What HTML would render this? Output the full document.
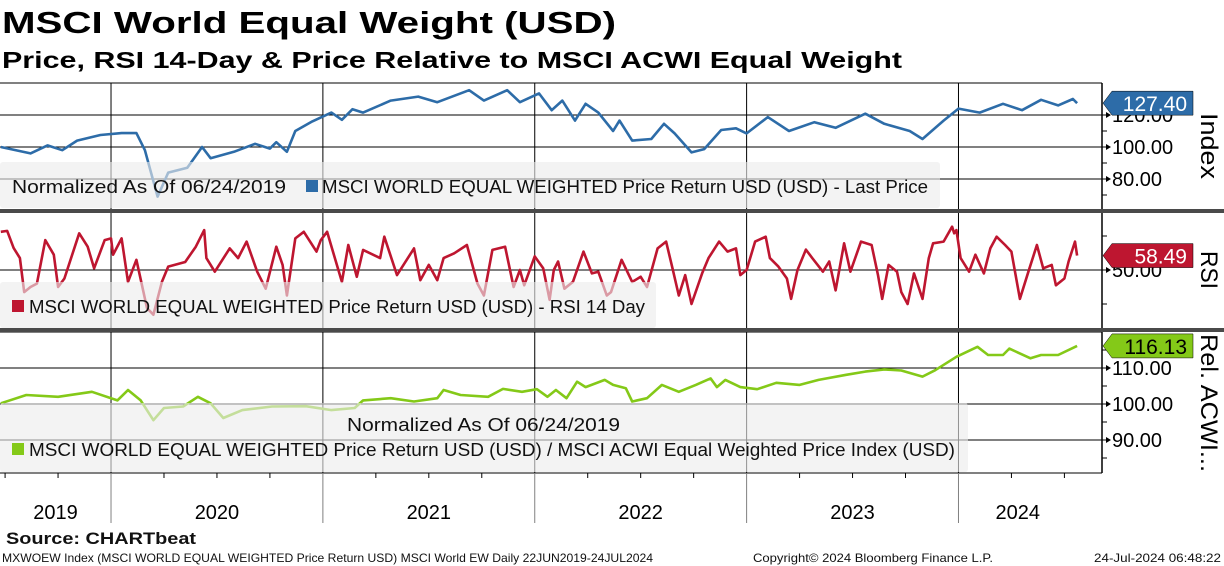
<!DOCTYPE html>
<html><head><meta charset="utf-8"><style>
html,body{margin:0;padding:0;background:#fff;}
svg{display:block;font-family:"Liberation Sans",sans-serif;}
</style></head><body>
<svg id="chart" width="1224" height="566" viewBox="0 0 1224 566" xmlns="http://www.w3.org/2000/svg">
<rect width="1224" height="566" fill="#fff"/>
<text x="2" y="33" font-size="31" font-weight="bold" textLength="614" lengthAdjust="spacingAndGlyphs">MSCI World Equal Weight (USD)</text>
<text x="2" y="68" font-size="23" font-weight="bold" textLength="900" lengthAdjust="spacingAndGlyphs">Price, RSI 14-Day &amp; Price Relative to MSCI ACWI Equal Weight</text>
<g id="grid"></g>
<g id="series"></g>
<g id="overlay"></g>
</svg>
<script>
// ---- data ----
const priceDates=[2019.48,2019.62,2019.70,2019.77,2019.84,2019.95,2020.05,2020.12,2020.16,2020.22,2020.27,2020.36,2020.43,2020.47,2020.58,2020.68,2020.75,2020.78,2020.83,2020.87,2020.95,2021.04,2021.09,2021.14,2021.19,2021.32,2021.45,2021.54,2021.69,2021.76,2021.87,2021.93,2022.02,2022.08,2022.13,2022.19,2022.24,2022.30,2022.37,2022.40,2022.46,2022.55,2022.61,2022.66,2022.74,2022.80,2022.88,2022.95,2023.00,2023.10,2023.20,2023.32,2023.42,2023.56,2023.65,2023.77,2023.83,2023.93,2024.00,2024.10,2024.21,2024.30,2024.39,2024.47,2024.54,2024.56];
const priceValues=[100,96,101,98,104,107.5,108.7,108.7,98,69,84,87,100,93,97,102,99,103,97,110,116,121.5,117,123.6,121.5,129,131.5,128,135.5,129,135.5,128,133.5,123,129,116.5,127,121.5,110,116.5,104,105,114.5,108.5,96.6,98.7,110.6,111.7,108.5,118.7,110,115.5,112,120.8,114.5,110,105,116.5,124,121.5,127,123,129.5,126,130,127.4];
const rsiDates=[2019.48,2019.51,2019.54,2019.57,2019.59,2019.62,2019.65,2019.69,2019.73,2019.75,2019.78,2019.85,2019.89,2019.92,2019.97,2020.00,2020.01,2020.05,2020.08,2020.12,2020.17,2020.20,2020.24,2020.27,2020.35,2020.40,2020.44,2020.45,2020.49,2020.56,2020.60,2020.64,2020.69,2020.73,2020.78,2020.81,2020.83,2020.87,2020.91,2020.97,2020.99,2021.02,2021.09,2021.12,2021.16,2021.19,2021.27,2021.29,2021.35,2021.43,2021.46,2021.50,2021.54,2021.57,2021.62,2021.68,2021.73,2021.76,2021.80,2021.86,2021.90,2021.93,2021.95,2022.00,2022.04,2022.07,2022.09,2022.11,2022.14,2022.18,2022.23,2022.27,2022.30,2022.34,2022.36,2022.41,2022.46,2022.50,2022.53,2022.58,2022.62,2022.65,2022.68,2022.71,2022.74,2022.79,2022.82,2022.87,2022.91,2022.95,2022.97,2023.00,2023.04,2023.09,2023.11,2023.15,2023.19,2023.21,2023.24,2023.28,2023.31,2023.36,2023.39,2023.42,2023.46,2023.49,2023.54,2023.59,2023.62,2023.64,2023.67,2023.71,2023.73,2023.76,2023.79,2023.83,2023.86,2023.88,2023.93,2023.97,2023.98,2023.99,2024.01,2024.05,2024.08,2024.12,2024.15,2024.18,2024.22,2024.25,2024.29,2024.33,2024.37,2024.40,2024.44,2024.46,2024.50,2024.52,2024.55,2024.56];
const rsiValues=[72.5,73,63,57,37,40,42,67.6,59,40,45,71.6,63.7,51,67.6,68.6,59,68.6,43,56,27.6,23.7,43,52,54.7,63.7,73.5,57,49,62.7,57,66.7,49,39,63.7,53,35,68.6,72.5,60.8,67.6,72.5,43,64.7,46,61.8,57,69.6,47,62.7,44,53,44,57,59.8,64.7,42,35,61.8,63.7,40,50,41,58,51,32.5,50,55,39,43,60.8,48,49,35,37,56,43,46,40,62.7,66.7,51,35,47,30,48,57,66.7,60.8,62.7,47,50,66.7,69.6,57,52,45,33,50,62,57,49,55,38,65.7,49,66.7,64.7,47,33,53,49,37,30,48,33,57,65.7,66.7,75.5,71.6,73.5,57,49,59,48,62.7,69.6,64.7,60.8,33,49,64.7,51,53,41,45,55,66.7,58.49];
const relDates=[2019.48,2019.60,2019.75,2019.91,2020.03,2020.08,2020.14,2020.20,2020.25,2020.34,2020.41,2020.47,2020.53,2020.62,2020.76,2020.92,2021.04,2021.15,2021.19,2021.32,2021.43,2021.54,2021.57,2021.65,2021.78,2021.85,2021.94,2022.01,2022.06,2022.10,2022.15,2022.20,2022.24,2022.33,2022.37,2022.43,2022.46,2022.53,2022.60,2022.68,2022.76,2022.83,2022.86,2022.90,2022.97,2023.05,2023.14,2023.25,2023.34,2023.47,2023.56,2023.65,2023.73,2023.83,2023.89,2023.99,2024.09,2024.14,2024.21,2024.24,2024.34,2024.39,2024.47,2024.56];
const relValues=[100.2,102.5,102,103.4,101,103.9,101,95.5,98.9,99.3,102,100.2,96.1,98.3,99.3,99.4,98.3,98.9,101,101.6,100.7,101.6,103.9,102.5,102,104.2,103.4,104.1,102,103.9,101.6,106.2,104.7,106.7,105.3,104.4,100.7,101.6,105.3,103.4,105.3,107.1,104.7,106.7,104.7,104.1,105.9,105.3,106.7,108.1,109,109.6,109.3,107.6,109.4,113.1,115.9,113.6,113.6,115.4,112.7,113.6,113.6,116.13];
const yearLabels=["2019","2020","2021","2022","2023","2024"];
const yearStarts=[2020,2021,2022,2023,2024];
const priceTicks=[120,100,80];
const rsiTicks=[50];
const relTicks=[110,100,90];
const lastPrice="127.40", lastRsi="58.49", lastRel="116.13";

// ---- scales ----
const PL=0, PR=1102;
const xS=t=>PL+(t-2019.476)/0.00472;
const yPrice=v=>147-(v-100)*1.6;
const yRsi=v=>270-(v-50)*1.7;
const yRel=v=>404-(v-100)*3.6;
const NS="http://www.w3.org/2000/svg";
function mk(tag,attrs,parent,txt){const e=document.createElementNS(NS,tag);for(const k in attrs)e.setAttribute(k,attrs[k]);if(txt!=null)e.textContent=txt;parent.appendChild(e);return e;}
const grid=document.getElementById('grid'),ser=document.getElementById('series'),ov=document.getElementById('overlay');

const panels=[{top:83,bot:209,ys:yPrice,ticks:priceTicks,minor:[110,90,70],name:'price'},
{top:212,bot:328,ys:yRsi,ticks:rsiTicks,minor:[70,30],name:'rsi'},
{top:332,bot:473,ys:yRel,ticks:relTicks,minor:[115,105,95,85],name:'rel'}];
panels.forEach(p=>{
  const l=mk('line',{x1:0,x2:PR,y1:p.top,y2:p.top,stroke:'#000','stroke-width':1},grid);
  
  
  p.ticks.forEach(v=>{
    const y=p.ys(v);
    const g=mk('line',{x1:0,x2:PR+6,y1:y,y2:y,stroke:'#000','stroke-width':1},grid);
    
    
    mk('path',{d:`M${PR+4} ${y-3}L${PR+9} ${y}L${PR+4} ${y+3}Z`,fill:'#000'},grid);
    const t=mk('text',{x:1112,y:y+7,'font-size':20,fill:'#000'},grid,v.toFixed(2));
    
    
  });
  p.minor.forEach(v=>{const y=p.ys(v);if(y>p.top&&y<p.bot)mk('line',{x1:PR,x2:PR+5,y1:y,y2:y,stroke:'#000'},grid);});
  yearStarts.forEach(yr=>{mk('line',{x1:xS(yr),x2:xS(yr),y1:p.top,y2:p.bot,stroke:'#000','stroke-width':1},grid);});
  mk('line',{x1:PR,x2:PR,y1:p.top,y2:p.bot,stroke:'#000','stroke-width':1.5},grid);
});
// x axis
mk('line',{x1:0,x2:PR,y1:473,y2:473,stroke:'#000'},grid);
yearStarts.forEach(yr=>{const x=xS(yr);const l=mk('line',{x1:x,x2:x,y1:473,y2:523,stroke:'#808080','stroke-width':1},grid);
  
  });
for(let yr=2019.5;yr<2024.6;yr+=0.25){if(Math.abs(yr-Math.round(yr))<0.01)continue;mk('line',{x1:xS(yr),x2:xS(yr),y1:473,y2:478,stroke:'#000'},grid);}
yearLabels.forEach((lab,i)=>{const yr=+lab;const a=Math.max(2019.476,yr),b=Math.min(2024.56,yr+1);
  const t=mk('text',{x:(xS(a)+xS(b))/2,y:519,'font-size':20,'text-anchor':'middle'},grid,lab);
  
  });

function line(dates,vals,ys,color,name){
  const d=dates.map((t,i)=>(i?'L':'M')+xS(t).toFixed(1)+' '+ys(vals[i]).toFixed(1)).join('');
  const p=mk('path',{d:d,fill:'none',stroke:color,'stroke-width':2.6,'stroke-linejoin':'round'},ser);
  
  
}
line(priceDates,priceValues,yPrice,'#2d6ca8','price-line');
line(rsiDates,rsiValues,yRsi,'#be1630','rsi-line');
line(relDates,relValues,yRel,'#84c918','relative-line');

// legends (semi-transparent)
function legBox(x,y,w,h,name){const r=mk('rect',{x:x,y:y,width:w,height:h,rx:3,fill:'#ececec','fill-opacity':0.62},ov);
  
  }
legBox(0,162,940,46,'price-legend');
legBox(0,282,656,46,'rsi-legend');
legBox(0,403,968,69,'relative-legend');
function txt(x,y,s,str,len,name,extra){const t=mk('text',Object.assign({x:x,y:y,'font-size':s,fill:'#111',textLength:len,lengthAdjust:'spacingAndGlyphs'},extra||{}),ov,str);
  
  return t;}
txt(12,193,18,'Normalized As Of 06/24/2019',274,'price-legend-note');
mk('rect',{x:306,y:180,width:12,height:12,fill:'#2d6ca8'},ov);
txt(322,193,18,'MSCI WORLD EQUAL WEIGHTED Price Return USD (USD) - Last Price',606,'price-legend-entry');
mk('rect',{x:12,y:300,width:12,height:12,fill:'#be1630'},ov);
txt(29,313,18,'MSCI WORLD EQUAL WEIGHTED Price Return USD (USD) - RSI 14 Day',616,'rsi-legend-entry');
txt(347,431,18,'Normalized As Of 06/24/2019',273,'relative-legend-note');
mk('rect',{x:12,y:443,width:12,height:12,fill:'#84c918'},ov);
txt(29,456,18,'MSCI WORLD EQUAL WEIGHTED Price Return USD (USD) / MSCI ACWI Equal Weighted Price Index (USD)',926,'relative-legend-entry');

// separators
[[209,212],[328,331]].forEach(([a,b])=>{const r=mk('rect',{x:0,y:a,width:1224,height:b-a+1,fill:'#4a4a4a'},ov);
  
  });

// last value tags
function tag(y,label,bg,fg,name){const g=mk('g',{},ov);
  
  
  mk('path',{d:`M${PR+1} ${y}L${PR+10} ${y-12}H1193V${y+12}H${PR+10}Z`,fill:bg,stroke:'#000','stroke-width':0.5},g);
  mk('text',{x:1187,y:y+8,'font-size':21,'text-anchor':'end',fill:fg},g,label);}
tag(yPrice(+lastPrice),lastPrice,'#2d6ca8','#fff','price-last-value-tag');
tag(yRsi(+lastRsi),lastRsi,'#be1630','#fff','rsi-last-value-tag');
tag(yRel(+lastRel),lastRel,'#84c918','#000','relative-last-value-tag');

// axis titles
function vt(cy,str,len,name){const t=mk('text',{x:0,y:0,'font-size':24,'text-anchor':'middle',transform:`translate(1201 ${cy}) rotate(90)`,textLength:len,lengthAdjust:'spacingAndGlyphs'},ov,str);
  
  }
vt(146,'Index',66,'price-axis-title');
vt(270,'RSI',38,'rsi-axis-title');
vt(403,'Rel. ACWI...',138,'relative-axis-title');

// footer
txt(6,544,17,'Source: CHARTbeat',190,'source-note',{'font-weight':'bold'});
txt(2,562,12,'MXWOEW Index (MSCI WORLD EQUAL WEIGHTED Price Return USD) MSCI World EW  Daily 22JUN2019-24JUL2024',651,'footer-description');
txt(753,562,12,'Copyright© 2024 Bloomberg Finance L.P.',240,'footer-copyright');
txt(1094,562,12,'24-Jul-2024 06:48:22',127,'footer-timestamp');
</script>
</body></html>
